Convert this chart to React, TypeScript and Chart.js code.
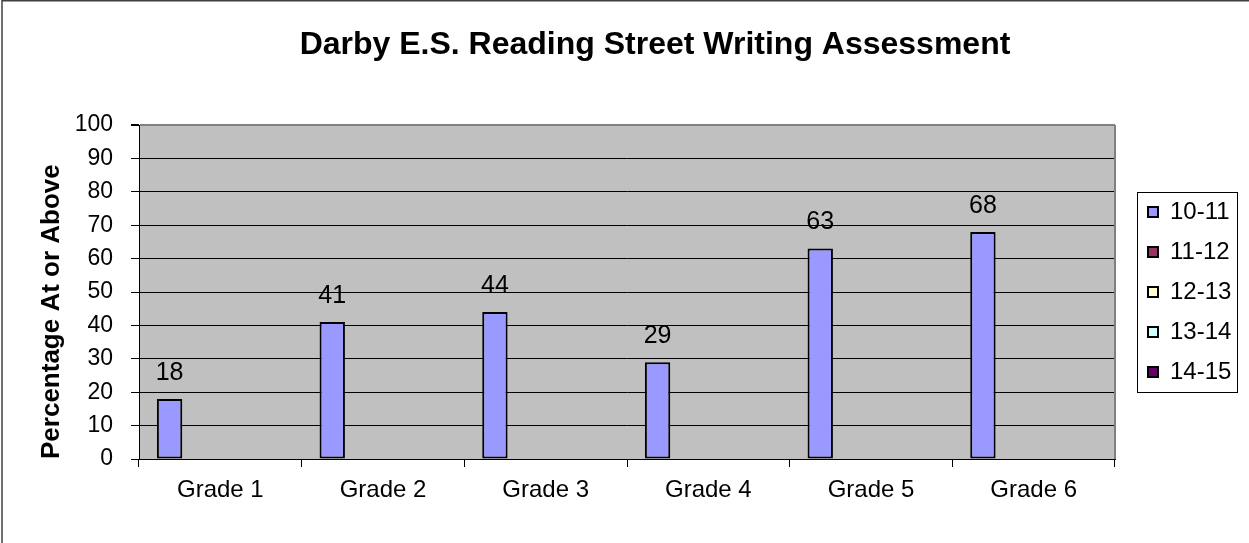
import React, { useEffect, useRef } from "react";
import { Chart, registerables } from "chart.js";

Chart.register(...registerables);

const categories = ["Grade 1", "Grade 2", "Grade 3", "Grade 4", "Grade 5", "Grade 6"];
const seriesLabels = ["10-11", "11-12", "12-13", "13-14", "14-15"];
const seriesColors = ["#9999FF", "#993366", "#FFFFCC", "#CCFFFF", "#660066"];
const values1011: (number | null)[] = [18, 41, 44, 29, 63, 68];
const values1112: (number | null)[] = [];
const values1213: (number | null)[] = [];
const values1314: (number | null)[] = [];
const values1415: (number | null)[] = [];
const seriesValues = [values1011, values1112, values1213, values1314, values1415];
const yTicks = [0, 10, 20, 30, 40, 50, 60, 70, 80, 90, 100];

const FONT = "'Liberation Sans', Arial, sans-serif";
const LEGEND_PAD = 16;

const framePlugin = {
  id: "framePlugin",
  afterLayout(chart: any) {
    if (chart.legend) chart.legend.left += 33 - LEGEND_PAD;
  },
  beforeDraw(chart: any) {
    const { ctx, chartArea } = chart;
    ctx.save();
    ctx.fillStyle = "#FFFFFF";
    ctx.fillRect(0, 0, chart.width, chart.height);
    ctx.strokeStyle = "#404040";
    ctx.lineWidth = 1.5;
    ctx.beginPath();
    ctx.moveTo(2, chart.height);
    ctx.lineTo(2, 0.75);
    ctx.lineTo(chart.width, 0.75);
    ctx.stroke();
    ctx.fillStyle = "#C0C0C0";
    ctx.fillRect(chartArea.left, chartArea.top, chartArea.right - chartArea.left, chartArea.bottom - chartArea.top);
    ctx.restore();
  },
  beforeDatasetsDraw(chart: any) {
    const { ctx, chartArea } = chart;
    ctx.save();
    ctx.strokeStyle = "#808080";
    ctx.lineWidth = 2;
    ctx.beginPath();
    ctx.moveTo(chartArea.right, chartArea.top);
    ctx.lineTo(chartArea.right, chartArea.bottom);
    ctx.stroke();
    ctx.restore();
  },
  afterDatasetsDraw(chart: any) {
    const { ctx } = chart;
    ctx.save();
    ctx.fillStyle = "#000";
    ctx.font = `25px ${FONT}`;
    ctx.textAlign = "center";
    ctx.textBaseline = "middle";
    chart.data.datasets.forEach((ds: any, di: number) => {
      const meta = chart.getDatasetMeta(di);
      meta.data.forEach((el: any, i: number) => {
        const v = ds.data[i];
        if (v === null || v === undefined) return;
        ctx.fillText(String(v), el.x, el.y - 26);
      });
    });
    ctx.restore();
  },
  afterDraw(chart: any) {
    const lg = chart.legend;
    if (!lg) return;
    const { ctx } = chart;
    const mid = (lg.top + lg.bottom) / 2;
    const x0 = lg.left + LEGEND_PAD - 11;
    ctx.save();
    ctx.strokeStyle = "#000";
    ctx.lineWidth = 1;
    ctx.strokeRect(Math.round(x0) + 0.5, Math.round(mid - 100) + 0.5, 100, 200);
    ctx.restore();
  },
};

export default function App() {
  const ref = useRef<HTMLCanvasElement | null>(null);
  useEffect(() => {
    if (!ref.current) return;
    const chart = new Chart(ref.current, {
      type: "bar",
      data: {
        labels: categories,
        datasets: seriesLabels.map((label, i) => ({
          label,
          data: seriesValues[i],
          backgroundColor: seriesColors[i],
          borderColor: "#000",
          borderWidth: 2,
          borderSkipped: false,
          categoryPercentage: 0.78,
          barPercentage: 1,
        })),
      },
      options: {
        animation: false,
        responsive: false,
        layout: { padding: { left: 61, right: 0, top: 0, bottom: 0 } },
        plugins: {
          tooltip: { enabled: false },
          title: {
            display: true,
            text: "Darby E.S. Reading Street Writing Assessment",
            color: "#000",
            font: { family: FONT, size: 32, weight: "bold", lineHeight: 1.2 },
            padding: { top: 26, bottom: 60.6 },
          },
          legend: {
            display: true,
            position: "right",
            fullSize: false,
            align: "center",
            labels: {
              color: "#000",
              font: { family: FONT, size: 24 },
              boxWidth: 10,
              boxHeight: 10,
              padding: LEGEND_PAD,
            },
          },
        },
        scales: {
          x: {
            grid: {
              display: true,
              drawOnChartArea: false,
              drawTicks: true,
              tickLength: 8,
              color: "#000",
              tickColor: "#000",
              offset: true,
            },
            border: { display: true, color: "#000", width: 1 },
            ticks: { color: "#000", font: { family: FONT, size: 24 }, padding: 9, maxRotation: 0 },
            afterFit(scale: any) {
              scale.height = 84;
            },
          },
          y: {
            min: 0,
            max: 100,
            afterBuildTicks(scale: any) {
              scale.ticks = yTicks.map((v) => ({ value: v }));
            },
            grid: {
              color: (c: any) => (c.tick && c.tick.value === 100 ? "#808080" : "#000"),
              lineWidth: (c: any) => (c.tick && c.tick.value === 100 ? 2 : 1),
              tickColor: "#000",
              tickLength: 8,
              drawTicks: true,
            },
            border: { display: true, color: "#000", width: 1 },
            ticks: { color: "#000", font: { family: FONT, size: 23 }, padding: 18 },
            title: {
              display: true,
              text: "Percentage At or Above",
              align: "start",
              color: "#000",
              font: { family: FONT, size: 26, weight: "bold", lineHeight: 1.2 },
              padding: { top: -25, bottom: 0 },
            },
            afterFit(scale: any) {
              scale.width = 78;
            },
          },
        },
      },
      plugins: [
        framePlugin,
        {
          id: "legendWidth",
          beforeInit(chart: any) {
            const lg = chart.legend;
            if (lg) {
              const orig = lg.fit.bind(lg);
              lg.fit = function () {
                orig();
                this.width = 134;
              };
            }
          },
        },
      ],
    } as any);
    return () => chart.destroy();
  }, []);
  return (
    <div style={{ position: "absolute", left: 0, top: 0, width: 1249, height: 543 }}>
      <canvas ref={ref} width={1249} height={543} />
    </div>
  );
}
